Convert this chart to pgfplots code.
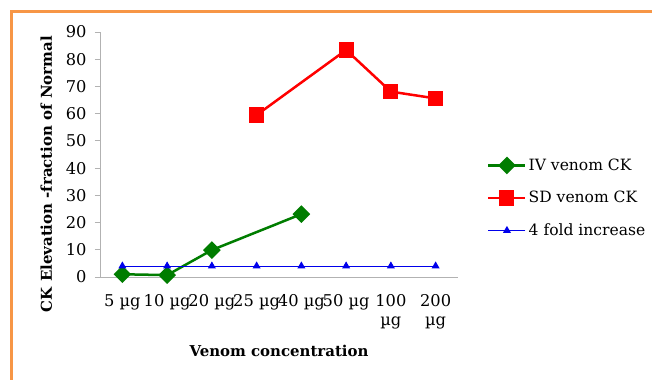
\documentclass[border=0pt]{standalone}
\usepackage{fontspec}
\setmainfont{DejaVu Serif}
\usepackage{pgfplots}
\pgfplotsset{compat=1.18}
\definecolor{bord}{RGB}{247,150,70}
\definecolor{ivgreen}{RGB}{0,125,0}
\definecolor{sdred}{RGB}{255,0,0}
\definecolor{fblue}{RGB}{0,0,235}
\newcommand{\fs}{\fontsize{15}{18}\selectfont}
\newcommand{\fst}{\fontsize{16.3}{18.5}\selectfont}
\newcommand{\fsl}{\fontsize{15.6}{18}\selectfont}
\begin{document}
\begin{tikzpicture}
\useasboundingbox (0,0) rectangle (652bp,380bp);
\fill[white] (0,0) rectangle (652bp,380bp);
\draw[bord, line width=3bp] (11.5bp,0) -- (11.5bp,368.5bp) -- (652bp,368.5bp);
\begin{axis}[
  at={(100bp,103bp)}, anchor=south west,
  scale only axis, width=358bp, height=245bp,
  xmin=-0.5, xmax=7.5, ymin=0, ymax=90,
  ytick={0,10,...,90},
  xtick={0,...,7},
  xticklabels={5 µg,10 µg,20 µg,25 µg,40 µg,50 µg,{100\\µg},{200\\µg}},
  xticklabel style={align=center, yshift=-9bp},
  yticklabel style={xshift=-5bp},
  axis x line*=bottom, axis y line*=left,
  axis line style={gray!60, line width=0.8bp},
  x tick style={draw=none},
  y tick style={gray!60, line width=0.8bp},
  tick align=outside, major tick length=5bp,
  tick label style={font=\fst},
  /pgf/number format/assume math mode=true,
  xlabel={\textbf{Venom concentration}},
  ylabel={\textbf{CK Elevation -fraction of Normal}},
  label style={font=\fs},
  xlabel style={at={(axis description cs:0.5,-0.30)}, anchor=center},
  ylabel style={at={(axis description cs:-0.150,0.42)}, anchor=center},
  legend style={at={(axis description cs:1.081,0.322)}, anchor=west, draw=none, fill=none, inner sep=0pt, font=\fsl, row sep=15.5bp},
  legend cell align=left,
  legend image code/.code={\draw[mark repeat=2,mark phase=2,#1] plot coordinates {(0bp,0bp) (18.5bp,0bp) (37bp,0bp)};},
]
\addplot[ivgreen, line width=2.5bp, mark=square*, mark size=5bp, mark options={rotate=45, solid}]
  coordinates {(0,1.0) (1,0.7) (2,9.9) (4,23.1)};
\addlegendentry{IV venom CK}
\addplot[sdred, line width=2.5bp, mark=square*, mark size=6.3bp, mark options={solid}]
  coordinates {(3,59.5) (5,83.4) (6,68.1) (7,65.6)};
\addlegendentry{SD venom CK}
\addplot[draw=fblue, fill=fblue, line width=1.1bp, mark=triangle*, mark size=3.6bp]
  coordinates {(0,4) (1,4) (2,4) (3,4) (4,4) (5,4) (6,4) (7,4)};
\addlegendentry{4 fold increase}
\end{axis}
\end{tikzpicture}
\end{document}
